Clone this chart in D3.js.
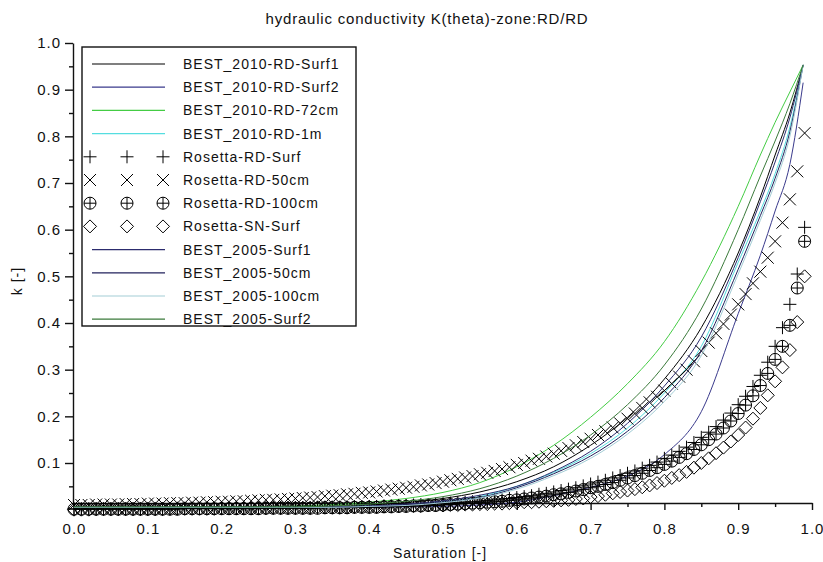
<!DOCTYPE html>
<html>
<head>
<meta charset="utf-8">
<script src="https://cdn.jsdelivr.net/npm/d3@7"></script>
<style>
  body { margin: 0; background: #fff; }
  text { font-family: "Liberation Sans", Arial, sans-serif; fill: #111; }
</style>
</head>
<body>
<div id="chart"></div>
<script>
const width = 823;
const height = 562;

// saturation grid of the Rosetta marker series
const sat = [
  0.00, 0.01, 0.02, 0.03, 0.04, 0.05, 0.06, 0.07, 0.08, 0.09,
  0.10, 0.11, 0.12, 0.13, 0.14, 0.15, 0.16, 0.17, 0.18, 0.19,
  0.20, 0.21, 0.22, 0.23, 0.24, 0.25, 0.26, 0.27, 0.28, 0.29,
  0.30, 0.31, 0.32, 0.33, 0.34, 0.35, 0.36, 0.37, 0.38, 0.39,
  0.40, 0.41, 0.42, 0.43, 0.44, 0.45, 0.46, 0.47, 0.48, 0.49,
  0.50, 0.51, 0.52, 0.53, 0.54, 0.55, 0.56, 0.57, 0.58, 0.59,
  0.60, 0.61, 0.62, 0.63, 0.64, 0.65, 0.66, 0.67, 0.68, 0.69,
  0.70, 0.71, 0.72, 0.73, 0.74, 0.75, 0.76, 0.77, 0.78, 0.79,
  0.80, 0.81, 0.82, 0.83, 0.84, 0.85, 0.86, 0.87, 0.88, 0.89,
  0.90, 0.91, 0.92, 0.93, 0.94, 0.95, 0.96, 0.97, 0.98, 0.99
];

const rosettaRDSurf = [
  0.002, 0.002, 0.002, 0.002, 0.002, 0.002, 0.002, 0.002, 0.002, 0.002,
  0.002, 0.002, 0.002, 0.002, 0.003, 0.003, 0.003, 0.003, 0.003, 0.003,
  0.003, 0.003, 0.003, 0.003, 0.003, 0.004, 0.004, 0.004, 0.004, 0.004,
  0.004, 0.004, 0.004, 0.005, 0.005, 0.005, 0.005, 0.006, 0.006, 0.006,
  0.007, 0.007, 0.008, 0.008, 0.009, 0.009, 0.010, 0.011, 0.011, 0.012,
  0.013, 0.014, 0.015, 0.016, 0.017, 0.018, 0.020, 0.021, 0.023, 0.024,
  0.026, 0.028, 0.030, 0.033, 0.035, 0.038, 0.041, 0.044, 0.047, 0.051,
  0.055, 0.059, 0.063, 0.068, 0.073, 0.078, 0.083, 0.089, 0.095, 0.102,
  0.110, 0.117, 0.125, 0.134, 0.144, 0.155, 0.166, 0.178, 0.192, 0.207,
  0.225, 0.243, 0.264, 0.288, 0.316, 0.350, 0.390, 0.440, 0.505, 0.605
];

const rosettaRD50 = [
  0.010, 0.010, 0.010, 0.011, 0.011, 0.011, 0.011, 0.012, 0.012, 0.012,
  0.013, 0.013, 0.013, 0.014, 0.014, 0.014, 0.015, 0.015, 0.016, 0.016,
  0.017, 0.017, 0.018, 0.018, 0.019, 0.020, 0.021, 0.021, 0.022, 0.023,
  0.024, 0.025, 0.026, 0.027, 0.029, 0.030, 0.031, 0.033, 0.034, 0.036,
  0.037, 0.039, 0.041, 0.043, 0.045, 0.047, 0.049, 0.052, 0.054, 0.057,
  0.060, 0.063, 0.066, 0.069, 0.072, 0.076, 0.079, 0.083, 0.087, 0.091,
  0.096, 0.100, 0.105, 0.109, 0.114, 0.120, 0.126, 0.132, 0.138, 0.145,
  0.152, 0.160, 0.168, 0.176, 0.185, 0.195, 0.206, 0.218, 0.230, 0.242,
  0.255, 0.270, 0.285, 0.300, 0.318, 0.340, 0.358, 0.378, 0.398, 0.418,
  0.440, 0.462, 0.485, 0.510, 0.540, 0.575, 0.615, 0.665, 0.725, 0.807
];

const rosettaRD100 = [
  0.001, 0.001, 0.001, 0.001, 0.001, 0.001, 0.001, 0.001, 0.001, 0.001,
  0.001, 0.001, 0.001, 0.001, 0.001, 0.002, 0.002, 0.002, 0.002, 0.002,
  0.002, 0.002, 0.002, 0.002, 0.002, 0.002, 0.003, 0.003, 0.003, 0.003,
  0.003, 0.003, 0.003, 0.003, 0.004, 0.004, 0.004, 0.004, 0.005, 0.005,
  0.005, 0.005, 0.006, 0.006, 0.007, 0.007, 0.008, 0.008, 0.009, 0.009,
  0.010, 0.011, 0.012, 0.013, 0.014, 0.015, 0.016, 0.017, 0.018, 0.020,
  0.021, 0.023, 0.025, 0.027, 0.029, 0.032, 0.034, 0.037, 0.040, 0.043,
  0.047, 0.050, 0.054, 0.058, 0.063, 0.068, 0.073, 0.078, 0.084, 0.090,
  0.097, 0.104, 0.112, 0.120, 0.129, 0.139, 0.150, 0.162, 0.175, 0.190,
  0.206, 0.224, 0.244, 0.266, 0.292, 0.322, 0.350, 0.395, 0.475, 0.575
];

const rosettaSNSurf = [
  0.000, 0.000, 0.000, 0.001, 0.001, 0.001, 0.001, 0.001, 0.001, 0.001,
  0.001, 0.001, 0.001, 0.002, 0.002, 0.002, 0.002, 0.002, 0.002, 0.002,
  0.003, 0.003, 0.003, 0.003, 0.003, 0.003, 0.003, 0.004, 0.004, 0.004,
  0.004, 0.004, 0.004, 0.005, 0.005, 0.005, 0.005, 0.005, 0.006, 0.006,
  0.006, 0.006, 0.007, 0.007, 0.007, 0.008, 0.008, 0.008, 0.009, 0.009,
  0.009, 0.010, 0.010, 0.011, 0.011, 0.012, 0.012, 0.013, 0.013, 0.014,
  0.015, 0.016, 0.016, 0.017, 0.018, 0.019, 0.020, 0.021, 0.023, 0.024,
  0.027, 0.029, 0.032, 0.035, 0.038, 0.041, 0.044, 0.048, 0.052, 0.057,
  0.062, 0.068, 0.074, 0.081, 0.090, 0.100, 0.110, 0.121, 0.133, 0.146,
  0.160, 0.176, 0.195, 0.218, 0.245, 0.275, 0.305, 0.342, 0.402, 0.500
];

// saturation points of the BEST curves
const lineSat = [0, 0.1, 0.2, 0.3, 0.35, 0.4, 0.45, 0.5, 0.55, 0.6, 0.65, 0.7, 0.75, 0.8, 0.85, 0.9, 0.93, 0.95, 0.97, 0.988];

const best2010Surf1 = [0.005, 0.005, 0.005, 0.006, 0.007, 0.010, 0.015, 0.024, 0.038, 0.060, 0.092, 0.138, 0.198, 0.280, 0.390, 0.550, 0.670, 0.760, 0.850, 0.953];
const best2010Surf2 = [0.005, 0.005, 0.005, 0.005, 0.005, 0.005, 0.006, 0.007, 0.010, 0.016, 0.030, 0.048, 0.072, 0.118, 0.210, 0.420, 0.545, 0.640, 0.740, 0.915];
const best2010_72cm = [0.006, 0.006, 0.006, 0.008, 0.011, 0.016, 0.024, 0.037, 0.058, 0.092, 0.138, 0.198, 0.270, 0.360, 0.488, 0.650, 0.760, 0.830, 0.895, 0.953];
const best2010_1m = [0.005, 0.005, 0.005, 0.005, 0.006, 0.008, 0.011, 0.017, 0.028, 0.050, 0.080, 0.120, 0.175, 0.250, 0.350, 0.530, 0.640, 0.720, 0.820, 0.953];
const best2005Surf1 = [0.005, 0.005, 0.005, 0.005, 0.006, 0.008, 0.012, 0.019, 0.031, 0.050, 0.082, 0.125, 0.185, 0.265, 0.370, 0.540, 0.660, 0.745, 0.840, 0.953];
const best2005_50cm = [0.005, 0.005, 0.005, 0.005, 0.006, 0.007, 0.010, 0.016, 0.026, 0.047, 0.077, 0.115, 0.168, 0.240, 0.340, 0.515, 0.630, 0.710, 0.810, 0.953];
const best2005_100cm = [0.005, 0.005, 0.005, 0.005, 0.005, 0.007, 0.009, 0.015, 0.025, 0.044, 0.073, 0.110, 0.162, 0.232, 0.330, 0.505, 0.620, 0.700, 0.800, 0.953];
const best2005Surf2 = [0.006, 0.006, 0.006, 0.006, 0.008, 0.012, 0.018, 0.028, 0.045, 0.072, 0.110, 0.160, 0.225, 0.310, 0.430, 0.600, 0.715, 0.790, 0.870, 0.953];

const xTicks = [0.0, 0.1, 0.2, 0.3, 0.4, 0.5, 0.6, 0.7, 0.8, 0.9, 1.0];
const xMinorTicks = [0.05, 0.15, 0.25, 0.35, 0.45, 0.55, 0.65, 0.75, 0.85, 0.95];
const yTicks = [0.1, 0.2, 0.3, 0.4, 0.5, 0.6, 0.7, 0.8, 0.9, 1.0];
const yMinorTicks = [0.05, 0.15, 0.25, 0.35, 0.45, 0.55, 0.65, 0.75, 0.85, 0.95];

const lines2010 = [
  { name: "BEST_2010-RD-Surf1", values: best2010Surf1, color: "#000000" },
  { name: "BEST_2010-RD-Surf2", values: best2010Surf2, color: "#3a3a8c" },
  { name: "BEST_2010-RD-72cm", values: best2010_72cm, color: "#44cc44" },
  { name: "BEST_2010-RD-1m", values: best2010_1m, color: "#55dde0" }
];
const markers = [
  { name: "Rosetta-RD-Surf", values: rosettaRDSurf, shape: "plus" },
  { name: "Rosetta-RD-50cm", values: rosettaRD50, shape: "times" },
  { name: "Rosetta-RD-100cm", values: rosettaRD100, shape: "circlePlus" },
  { name: "Rosetta-SN-Surf", values: rosettaSNSurf, shape: "diamond" }
];
const lines2005 = [
  { name: "BEST_2005-Surf1", values: best2005Surf1, color: "#2c2c6e" },
  { name: "BEST_2005-50cm", values: best2005_50cm, color: "#22225c" },
  { name: "BEST_2005-100cm", values: best2005_100cm, color: "#a3cdd6" },
  { name: "BEST_2005-Surf2", values: best2005Surf2, color: "#3b7a3b" }
];

const shapes = {
  plus: r => `M${-r},0H${r}M0,${-r}V${r}`,
  times: r => `M${-r},${-r}L${r},${r}M${-r},${r}L${r},${-r}`,
  diamond: r => `M0,${-r}L${r},0L0,${r}L${-r},0Z`,
  circlePlus: r => `M${-r},0A${r},${r} 0 1,0 ${r},0A${r},${r} 0 1,0 ${-r},0ZM${-r},0H${r}M0,${-r}V${r}`
};
const shapeSize = { plus: 6.5, times: 6, diamond: 6.5, circlePlus: 6 };

const svg = d3.select("#chart")
  .append("svg")
  .attr("width", width)
  .attr("height", height);

const x = d3.scaleLinear().domain([0, 1]).range([74, 812]);
const y = d3.scaleLinear().domain([0.0143, 1]).range([503, 43]);

// axes
function styleAxis(g, fontSize) {
  g.attr("font-family", null).attr("font-size", null);
  g.select(".domain").attr("stroke", "#111").attr("stroke-width", 1.4);
  g.selectAll(".tick line").attr("stroke", "#111").attr("stroke-width", 1.4);
  g.selectAll(".tick text")
    .style("font-size", fontSize + "px")
    .style("letter-spacing", "1px")
    .attr("fill", "#111");
}

svg.append("g")
  .attr("transform", "translate(0,503)")
  .call(d3.axisBottom(x).tickValues(xMinorTicks).tickSize(4).tickSizeOuter(0).tickFormat(""))
  .call(g => g.select(".domain").remove())
  .call(g => g.selectAll(".tick line").attr("stroke", "#111").attr("stroke-width", 1.4));

svg.append("g")
  .attr("transform", "translate(0,503)")
  .call(d3.axisBottom(x).tickValues(xTicks).tickSize(7).tickSizeOuter(0).tickPadding(13).tickFormat(d3.format(".1f")))
  .call(g => styleAxis(g, 15));

svg.append("g")
  .attr("transform", "translate(73,0)")
  .call(d3.axisLeft(y).tickValues(yMinorTicks).tickSize(4).tickSizeOuter(0).tickFormat(""))
  .call(g => g.select(".domain").remove())
  .call(g => g.selectAll(".tick line").attr("stroke", "#111").attr("stroke-width", 1.4));

svg.append("g")
  .attr("transform", "translate(73,0)")
  .call(d3.axisLeft(y).tickValues(yTicks).tickSize(8).tickSizeOuter(0).tickPadding(4).tickFormat(d3.format(".1f")))
  .call(g => styleAxis(g, 15));

// title and axis labels
svg.append("text")
  .attr("x", 427).attr("y", 24)
  .attr("text-anchor", "middle")
  .style("font-size", "15px")
  .style("letter-spacing", "0.8px")
  .text("hydraulic conductivity K(theta)-zone:RD/RD");

svg.append("text")
  .attr("x", 440).attr("y", 558)
  .attr("text-anchor", "middle")
  .style("font-size", "14px")
  .style("letter-spacing", "1px")
  .text("Saturation [-]");

svg.append("text")
  .attr("transform", "translate(22,281) rotate(-90)")
  .attr("text-anchor", "middle")
  .style("font-size", "14px")
  .style("letter-spacing", "1px")
  .text("k [-]");

// curves and markers
const line = d3.line()
  .x(d => x(d[0]))
  .y(d => y(d[1]))
  .curve(d3.curveMonotoneX);

const plotArea = svg.append("g");

function drawLines(list) {
  list.forEach(s => {
    plotArea.append("path")
      .datum(lineSat.map((v, i) => [v, s.values[i]]))
      .attr("d", line)
      .attr("fill", "none")
      .attr("stroke", s.color)
      .attr("stroke-width", 1);
  });
}

drawLines(lines2010);

markers.forEach(s => {
  plotArea.append("g")
    .selectAll("path")
    .data(sat.map((v, i) => [v, s.values[i]]))
    .enter()
    .append("path")
    .attr("transform", d => `translate(${x(d[0])},${y(d[1])})`)
    .attr("d", shapes[s.shape](shapeSize[s.shape]))
    .attr("fill", "none")
    .attr("stroke", "#000")
    .attr("stroke-width", 1);
});

drawLines(lines2005);

// legend
const legendItems = [
  ...lines2010.map(d => ({ name: d.name, color: d.color })),
  ...markers.map(d => ({ name: d.name, shape: d.shape })),
  ...lines2005.map(d => ({ name: d.name, color: d.color }))
];

const legend = svg.append("g");
legend.append("rect")
  .attr("x", 82).attr("y", 47)
  .attr("width", 274).attr("height", 279)
  .attr("fill", "#fff")
  .attr("stroke", "#111")
  .attr("stroke-width", 1.4);

legendItems.forEach((d, i) => {
  const ry = 64 + i * 23.2;
  if (d.shape) {
    [90, 127, 163].forEach(mx => {
      legend.append("path")
        .attr("transform", `translate(${mx},${ry})`)
        .attr("d", shapes[d.shape](shapeSize[d.shape]))
        .attr("fill", "none")
        .attr("stroke", "#000")
        .attr("stroke-width", 1);
    });
  } else {
    legend.append("line")
      .attr("x1", 92).attr("x2", 165)
      .attr("y1", ry).attr("y2", ry)
      .attr("stroke", d.color)
      .attr("stroke-width", 1.2);
  }
  legend.append("text")
    .attr("x", 183).attr("y", ry + 5)
    .style("font-size", "14px")
    .style("letter-spacing", "1px")
    .text(d.name);
});
</script>
</body>
</html>
